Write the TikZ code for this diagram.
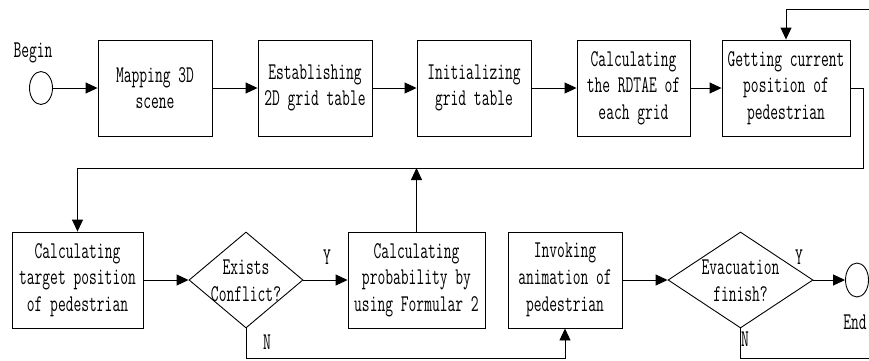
\documentclass[tikz,border=0pt]{standalone}
\usepackage{fontspec}
\newfontfamily\diafont{Latin Modern Mono}[FakeStretch=0.63]
\usetikzlibrary{shapes.geometric,arrows.meta}
\begin{document}
\begin{tikzpicture}[x=1pt,y=-1pt,
  font=\diafont\fontsize{24}{26.7}\selectfont,
  line width=0.9pt,
  box/.style={draw,rectangle,minimum height=96pt,inner sep=0pt,align=center},
  dia/.style={draw,diamond,minimum height=96pt,inner sep=0pt},
  term/.style={draw,ellipse,minimum width=23pt,minimum height=33pt,inner sep=0pt},
  arr/.style={-{Triangle[length=12pt,width=11pt]}},
  lbl/.style={inner sep=0pt,align=center}]
\useasboundingbox (0,0) rectangle (869,360);
% top row
\node[term] (begin) at (41,88) {};
\node[lbl] (beginl) at (33,53) {Begin};
\node[box,minimum width=114pt] (b1) at (155,88) {Mapping 3D\\scene};
\node[box,minimum width=114pt] (b2) at (315,88) {Establishing\\2D grid table};
\node[box,minimum width=114pt] (b3) at (474,88) {Initializing\\grid table};
\node[box,minimum width=113pt] (b4) at (633.5,88) {Calculating\\the RDTAE of\\each grid};
\node[box,minimum width=128pt] (b5) at (786,88) {Getting current\\position of\\pedestrian};
% bottom row
\node[box,minimum width=131pt] (b6) at (77.5,280) {Calculating\\target position\\of pedestrian};
\node[dia,minimum width=114pt] (d1) at (246,280) {};
\node[lbl] (d1t) at (246,281) {Exists\\Conflict?};
\node[box,minimum width=137pt] (b7) at (416.5,280) {Calculating\\probability by\\using Formular 2};
\node[box,minimum width=114pt] (b8) at (565,280) {Invoking\\animation of\\pedestrian};
\node[dia,minimum width=145pt] (d2) at (740.5,280) {};
\node[lbl] (d2t) at (740.5,281) {Evacuation\\finish?};
\node[term,minimum height=34pt] (end) at (857,280) {};
\node[lbl] (endl) at (855,322) {End};
% labels
\node[lbl] (y1) at (327,257) {Y};
\node[lbl] (n1) at (267,342) {N};
\node[lbl] (y2) at (799,257) {Y};
\node[lbl] (n2) at (745,339) {N};
% coordinates
\coordinate (tr) at (869,9);
\coordinate (rr) at (863,168);
\coordinate (br) at (869,358);
% connectors
\draw[arr] (begin.east) -- (b1.west);
\draw[arr] (b1.east) -- (b2.west);
\draw[arr] (b2.east) -- (b3.west);
\draw[arr] (b3.east) -- (b4.west);
\draw[arr] (b4.east) -- (b5.west);
\draw[arr] (tr) -| (b5.north);
\draw[arr] (b5.east) -| (rr) -| (b6.north);
\draw[arr] (b7.north) -- (b7.north |- rr);
\draw[arr] (b6.east) -- (d1.west);
\draw[arr] (d1.east) -- (b7.west);
\draw[arr] (d1.south) -- ++(0,30) -| (b8.south);
\draw[arr] (b8.east) -- (d2.west);
\draw[arr] (d2.east) -- (end.west);
\draw (d2.south) |- (br);
\end{tikzpicture}
\end{document}
